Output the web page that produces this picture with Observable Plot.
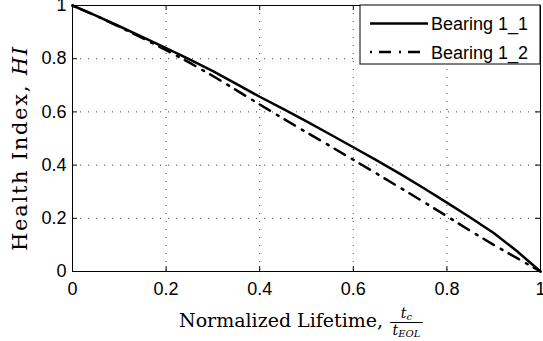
<!DOCTYPE html>
<html>
<head>
<meta charset="utf-8">
<script src="https://cdn.jsdelivr.net/npm/d3@7"></script>
<script src="https://cdn.jsdelivr.net/npm/@observablehq/plot@0.6"></script>
<style>
  html, body { margin: 0; padding: 0; background: #fff; }
  #chart svg { display: block; }
  #chart svg text { font-family: "Liberation Sans", Arial, Helvetica, sans-serif; }
  #chart svg text.serif { font-family: "DejaVu Serif", "Liberation Serif", serif; }
</style>
</head>
<body>
<div id="chart"></div>
<script>
// ---- data ----
const lifetime = [0, 0.05, 0.1, 0.15, 0.2, 0.25, 0.3, 0.35, 0.4, 0.45, 0.5,
                  0.55, 0.6, 0.65, 0.7, 0.75, 0.8, 0.85, 0.9, 0.95, 1];
const bearing11 = [1.000, 0.962, 0.922, 0.881, 0.840, 0.797, 0.753, 0.705, 0.657, 0.611, 0.564,
                   0.516, 0.467, 0.418, 0.367, 0.314, 0.259, 0.203, 0.145, 0.076, 0.000];
const bearing12 = [1.000, 0.962, 0.920, 0.877, 0.832, 0.785, 0.735, 0.682, 0.628, 0.575, 0.523,
                   0.472, 0.420, 0.368, 0.315, 0.262, 0.208, 0.153, 0.100, 0.050, 0.000];
const seriesNames = ["Bearing 1_1", "Bearing 1_2"];
const xTicks = [0, 0.2, 0.4, 0.6, 0.8, 1];
const xTickLabels = ["0", "0.2", "0.4", "0.6", "0.8", "1"];
const yTicks = [0, 0.2, 0.4, 0.6, 0.8, 1];
const yTickLabels = ["0", "0.2", "0.4", "0.6", "0.8", "1"];
const yTitle = "Health Index, ";
const yTitleItalic = "HI";
const xTitle = "Normalized Lifetime,";

// ---- layout ----
const W = 543, H = 341;
const mL = 72, mR = 3, mT = 5, mB = 70;
const pw = W - mL - mR, ph = H - mT - mB;
const tick = 5;
const dashDot = "2,7,12,8";
const gridStyle = {stroke: "#000", strokeOpacity: 0.75, strokeDasharray: "1,7", strokeWidth: 1};

const chart = Plot.plot({
  width: W, height: H,
  marginLeft: mL, marginRight: mR, marginTop: mT, marginBottom: mB,
  style: {fontFamily: "Liberation Sans, Arial, Helvetica, sans-serif", fontSize: "18px", background: "#fff", color: "#000", overflow: "visible"},
  x: {domain: [0, 1]},
  y: {domain: [0, 1]},
  marks: [
    Plot.gridX(xTicks, gridStyle),
    Plot.gridY(yTicks, gridStyle),
    Plot.line(lifetime, {x: d => d, y: (d, i) => bearing12[i], stroke: "#000", strokeWidth: 2.5, strokeDasharray: dashDot}),
    Plot.line(lifetime, {x: d => d, y: (d, i) => bearing11[i], stroke: "#000", strokeWidth: 2.5}),
    Plot.tickX(xTicks, {x: d => d, insetTop: ph - tick, stroke: "#000"}),
    Plot.tickX(xTicks, {x: d => d, insetBottom: ph - tick, stroke: "#000"}),
    Plot.tickY(yTicks, {y: d => d, insetRight: pw - tick, stroke: "#000"}),
    Plot.tickY(yTicks, {y: d => d, insetLeft: pw - tick, stroke: "#000"}),
    Plot.frame({stroke: "#000", strokeWidth: 1}),
    Plot.axisX({ticks: xTicks, tickSize: 0, tickPadding: 11, label: null,
                tickFormat: d => xTickLabels[xTicks.indexOf(d)]}),
    Plot.axisY({ticks: yTicks, tickSize: 0, tickPadding: 6, label: null,
                tickFormat: d => yTickLabels[yTicks.indexOf(d)]})
  ]
});
document.getElementById("chart").appendChild(chart);

const svg = d3.select(chart);

// y title
const yt = svg.append("text").attr("class", "serif")
  .attr("transform", `translate(27, 149) rotate(-90)`)
  .attr("text-anchor", "middle")
  .attr("textLength", 204).attr("lengthAdjust", "spacing")
  .style("font-size", "21px").attr("fill", "#000");
yt.append("tspan").text(yTitle);
yt.append("tspan").style("font-style", "italic").text(yTitleItalic);

// x title with fraction t_c / t_EOL
const xt = svg.append("text").attr("class", "serif")
  .attr("x", 179).attr("y", 327).attr("text-anchor", "start")
  .style("font-size", "19px").attr("fill", "#000")
  .text(xTitle);
const xtEnd = 179 + xt.node().getComputedTextLength();
const fx0 = xtEnd + 7;
const num = svg.append("text").attr("class", "serif").style("font-size", "14px").attr("fill", "#000")
  .attr("y", 318).attr("text-anchor", "middle");
num.append("tspan").style("font-style", "italic").text("t");
num.append("tspan").style("font-style", "italic").style("font-size", "10px").attr("dy", 2).text("c");
const den = svg.append("text").attr("class", "serif").style("font-size", "14px").attr("fill", "#000")
  .attr("y", 335).attr("text-anchor", "middle");
den.append("tspan").style("font-style", "italic").text("t");
den.append("tspan").style("font-style", "italic").style("font-size", "10px").attr("dy", 2).text("EOL");
const denW = den.node().getComputedTextLength();
const fw = denW + 5;
num.attr("x", fx0 + fw / 2);
den.attr("x", fx0 + fw / 2);
svg.append("line").attr("x1", fx0).attr("x2", fx0 + fw).attr("y1", 322.5).attr("y2", 322.5)
  .attr("stroke", "#000").attr("stroke-width", 1);

// legend
const lg = svg.append("g");
lg.append("rect").attr("x", 360).attr("y", mT).attr("width", W - mR - 360).attr("height", 59)
  .attr("fill", "#fff").attr("stroke", "#000").attr("stroke-width", 1);
const legY = [23.5, 52];
seriesNames.forEach((name, i) => {
  lg.append("line").attr("x1", 370).attr("x2", 428).attr("y1", legY[i]).attr("y2", legY[i])
    .attr("stroke", "#000").attr("stroke-width", 2.5)
    .attr("stroke-dasharray", i === 1 ? dashDot : null);
  lg.append("text").attr("x", 431).attr("y", legY[i] + 6.5).attr("text-anchor", "start")
    .style("font-size", "18px").attr("fill", "#000").text(name);
});
</script>
</body>
</html>
